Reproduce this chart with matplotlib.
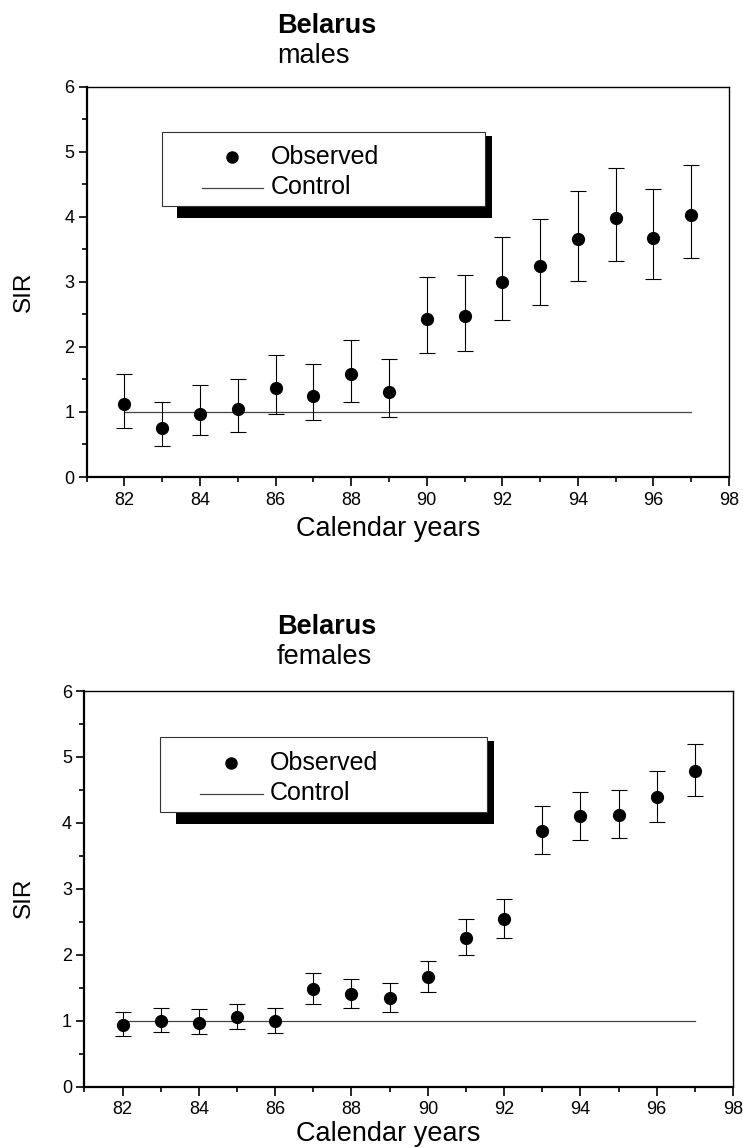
import matplotlib.pyplot as plt
from matplotlib.patches import Rectangle
from matplotlib.lines import Line2D
from matplotlib.ticker import MultipleLocator
import numpy as np

plt.rcParams['font.family'] = ['Liberation Sans', 'DejaVu Sans']

years = np.arange(82, 98)

# males: observed SIR with lower / upper confidence limits
male_sir = [1.12, 0.76, 0.97, 1.04, 1.37, 1.25, 1.58, 1.31, 2.43, 2.47, 3.00, 3.25, 3.66, 3.98, 3.68, 4.02]
male_lo = [0.76, 0.47, 0.64, 0.69, 0.97, 0.87, 1.15, 0.93, 1.90, 1.94, 2.41, 2.65, 3.01, 3.32, 3.05, 3.36]
male_hi = [1.58, 1.15, 1.41, 1.50, 1.87, 1.73, 2.11, 1.81, 3.07, 3.11, 3.69, 3.96, 4.39, 4.75, 4.43, 4.79]

# females
female_sir = [0.93, 1.00, 0.97, 1.06, 0.99, 1.48, 1.40, 1.34, 1.66, 2.26, 2.54, 3.87, 4.10, 4.12, 4.40, 4.79]
female_lo = [0.77, 0.83, 0.80, 0.87, 0.82, 1.26, 1.19, 1.13, 1.43, 2.00, 2.26, 3.53, 3.74, 3.77, 4.02, 4.41]
female_hi = [1.13, 1.20, 1.18, 1.26, 1.19, 1.73, 1.63, 1.57, 1.91, 2.55, 2.84, 4.25, 4.47, 4.50, 4.78, 5.20]

control = 1.0

W, H = 743, 1148
fig = plt.figure(figsize=(W / 100, H / 100), dpi=100)


def panel(rect, sir, lo, hi, subtitle, title_y, xlabel_y, sir_y):
    ax = fig.add_axes(rect)
    sir = np.array(sir)
    yerr = [sir - np.array(lo), np.array(hi) - sir]
    ax.errorbar(years, sir, yerr=yerr, fmt='none', ecolor='black',
                elinewidth=0.8, capsize=6, capthick=0.8, zorder=3)
    ax.plot(years, sir, 'o', color='black', ms=8.5, zorder=4)
    ax.plot([years[0], years[-1]], [control, control], color='#444444', lw=0.9, zorder=2)

    ax.set_xlim(81, 98)
    ax.set_ylim(0, 6)
    ax.xaxis.set_major_locator(MultipleLocator(2))
    ax.xaxis.set_minor_locator(MultipleLocator(1))
    ax.yaxis.set_major_locator(MultipleLocator(1))
    ax.yaxis.set_minor_locator(MultipleLocator(0.5))
    ax.tick_params(which='major', direction='out', length=6, width=1.2, pad=3,
                   labelsize=13,
                   labelfontfamily=['Liberation Sans Narrow', 'Liberation Sans'])
    ax.tick_params(which='minor', direction='out', length=3.5, width=1.2)
    ax.tick_params(axis='x', which='major', length=6.5, pad=4)
    for s in ['left', 'bottom']:
        ax.spines[s].set_linewidth(1.6)
    for s in ['top', 'right']:
        ax.spines[s].set_linewidth(1.0)

    # legend box with drop shadow
    ax.add_patch(Rectangle((0.1406, 0.664), 0.631 - 0.1406, 0.874 - 0.664,
                           transform=ax.transAxes, facecolor='black',
                           edgecolor='none', zorder=5))
    ax.add_patch(Rectangle((0.1168, 0.694), 0.620 - 0.1168, 0.884 - 0.694,
                           transform=ax.transAxes, facecolor='white',
                           edgecolor='#333333', lw=0.8, zorder=6))
    ax.plot([0.2258], [0.819], 'o', color='black', ms=8, transform=ax.transAxes,
            zorder=7)
    ax.add_line(Line2D([0.179, 0.275], [0.740, 0.740], color='#444444', lw=0.9,
                       transform=ax.transAxes, zorder=7))
    ax.text(0.2865, 0.819, 'Observed', transform=ax.transAxes, fontsize=18,
            va='center', ha='left', zorder=7)
    ax.text(0.2865, 0.742, 'Control', transform=ax.transAxes, fontsize=18,
            va='center', ha='left', zorder=7)

    fig.text(277 / W, 1 - title_y / H, 'Belarus', fontsize=19.5,
             fontweight='bold', ha='left', va='baseline')
    fig.text(277 / W, 1 - (title_y + 30) / H, subtitle, fontsize=19.5,
             ha='left', va='baseline')
    fig.text(388 / W, 1 - xlabel_y / H, 'Calendar years', fontsize=19.5,
             ha='center', va='baseline')
    fig.text(24 / W, 1 - sir_y / H, 'SIR', fontsize=17.5, rotation=90,
             ha='center', va='center')
    return ax


panel([86.7 / W, 1 - 477 / H, 642.3 / W, 390.3 / H],
      male_sir, male_lo, male_hi, 'males', 33, 536, 292)
panel([84.4 / W, 1 - 1086.7 / H, 648.6 / W, 395.7 / H],
      female_sir, female_lo, female_hi, 'females', 634.5, 1141, 898)

fig.savefig('out.png', dpi=100)
